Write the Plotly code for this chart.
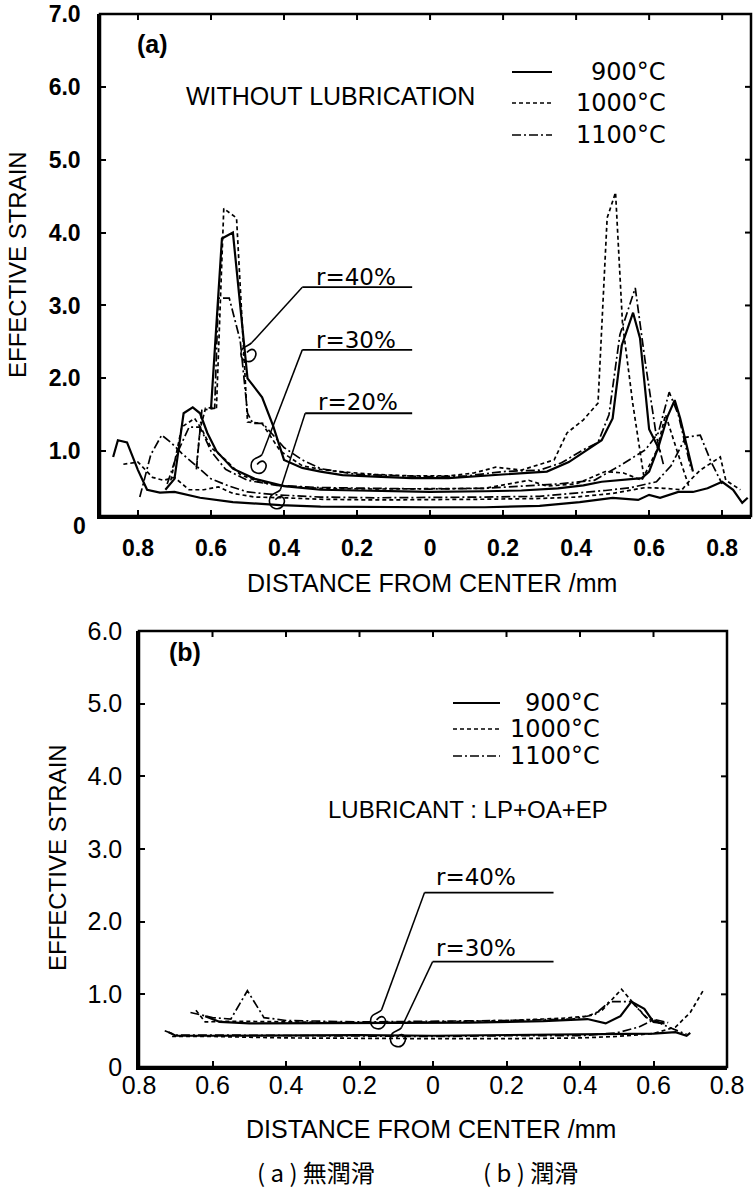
import plotly.graph_objects as go

# ---------------- shared styling keys ----------------
TEMPS = ["900°C", "1000°C", "1100°C"]
LEG_TEXT = ["900°C", "1000°C", "1100°C"]
DASHES = ["solid", "4px,3px", "9px,3px,2px,3px"]
WIDTHS = [2.2, 1.7, 1.7]

# ---------------- (a) WITHOUT LUBRICATION ----------------
A_XTICKS = [-0.8, -0.6, -0.4, -0.2, 0, 0.2, 0.4, 0.6, 0.8]
A_XTICKTEXT = ["0.8", "0.6", "0.4", "0.2", "0", "0.2", "0.4", "0.6", "0.8"]
A_YTICKS = [1, 2, 3, 4, 5, 6, 7]
A_YTICKTEXT = ["1.0", "2.0", "3.0", "4.0", "5.0", "6.0", "7.0"]

# r = 40 %
a900_r40_x = [-0.60, -0.57, -0.54, -0.51, -0.50, -0.46, -0.43, -0.40, -0.35, -0.30, -0.24, -0.15, -0.05,
              0.05, 0.15, 0.25, 0.32, 0.38, 0.43, 0.47, 0.50, 0.525, 0.556, 0.575, 0.60, 0.63]
a900_r40_y = [1.58, 3.92, 4.00, 2.45, 2.00, 1.74, 1.35, 0.88, 0.77, 0.72, 0.67, 0.65, 0.63,
              0.63, 0.66, 0.70, 0.72, 0.85, 1.02, 1.15, 1.45, 2.45, 2.90, 2.55, 1.30, 1.00]
a1000_r40_x = [-0.64, -0.63, -0.615, -0.585, -0.565, -0.53, -0.50, -0.46, -0.41, -0.35, -0.30, -0.25, -0.15,
               -0.05, 0.05, 0.12, 0.18, 0.25, 0.34, 0.375, 0.42, 0.46, 0.485, 0.508, 0.527, 0.555, 0.585]
a1000_r40_y = [0.78, 1.30, 1.59, 1.60, 4.33, 4.20, 1.40, 1.38, 1.00, 0.80, 0.75, 0.72, 0.68,
               0.66, 0.66, 0.70, 0.78, 0.74, 0.88, 1.25, 1.43, 1.66, 4.20, 4.55, 2.76, 1.66, 0.67]
a1100_r40_x = [-0.64, -0.625, -0.59, -0.58, -0.55, -0.52, -0.50, -0.485, -0.458, -0.40, -0.35, -0.30, -0.20,
               -0.10, 0.0, 0.10, 0.20, 0.30, 0.36, 0.42, 0.46, 0.49, 0.52, 0.562, 0.59, 0.62, 0.64]
a1100_r40_y = [0.75, 1.56, 1.59, 3.10, 3.10, 2.52, 1.52, 1.38, 1.38, 1.05, 0.88, 0.76, 0.68,
               0.66, 0.65, 0.66, 0.72, 0.74, 0.84, 1.02, 1.12, 1.50, 2.60, 3.24, 2.20, 1.20, 0.80]

# r = 30 %
a900_r30_x = [-0.725, -0.70, -0.675, -0.65, -0.63, -0.61, -0.585, -0.54, -0.48, -0.40, -0.30, -0.15, 0.0,
              0.15, 0.25, 0.35, 0.42, 0.47, 0.55, 0.58, 0.60, 0.625, 0.65, 0.67, 0.685, 0.72]
a900_r30_y = [0.47, 0.62, 1.52, 1.60, 1.52, 1.25, 1.00, 0.76, 0.62, 0.52, 0.47, 0.45, 0.44,
              0.45, 0.46, 0.49, 0.53, 0.58, 0.62, 0.63, 0.72, 1.05, 1.47, 1.70, 1.45, 0.72]
a1000_r30_x = [-0.71, -0.68, -0.645, -0.625, -0.60, -0.56, -0.52, -0.47, -0.40, -0.30, -0.15, 0.0,
               0.15, 0.27, 0.32, 0.40, 0.48, 0.53, 0.58, 0.62, 0.645, 0.68, 0.71]
a1000_r30_y = [0.60, 1.33, 1.45, 1.30, 1.05, 0.88, 0.68, 0.58, 0.52, 0.49, 0.48, 0.48,
               0.49, 0.60, 0.52, 0.55, 0.72, 0.70, 0.60, 1.00, 1.50, 0.95, 0.50]
a1100_r30_x = [-0.72, -0.69, -0.66, -0.63, -0.60, -0.56, -0.50, -0.42, -0.30, -0.15, 0.0,
               0.15, 0.25, 0.35, 0.45, 0.52, 0.59, 0.625, 0.655, 0.68, 0.715]
a1100_r30_y = [0.55, 1.00, 1.33, 1.33, 1.00, 0.75, 0.60, 0.53, 0.50, 0.49, 0.48,
               0.49, 0.52, 0.55, 0.60, 0.80, 1.02, 1.25, 1.81, 1.50, 0.75]

# r = 20 %
a900_r20_x = [-0.868, -0.855, -0.83, -0.80, -0.775, -0.74, -0.70, -0.63, -0.54, -0.41, -0.30, -0.15, 0.0,
              0.15, 0.30, 0.41, 0.50, 0.57, 0.60, 0.63, 0.68, 0.72, 0.76, 0.80, 0.83, 0.855, 0.87]
a900_r20_y = [0.92, 1.15, 1.12, 0.74, 0.47, 0.43, 0.44, 0.36, 0.30, 0.26, 0.24, 0.23, 0.23,
              0.23, 0.25, 0.30, 0.36, 0.33, 0.40, 0.36, 0.44, 0.44, 0.49, 0.58, 0.47, 0.29, 0.36]
a1000_r20_x = [-0.84, -0.80, -0.76, -0.73, -0.70, -0.66, -0.62, -0.58, -0.54, -0.48, -0.40, -0.30, -0.15,
               0.0, 0.15, 0.30, 0.40, 0.50, 0.59, 0.64, 0.69, 0.712, 0.74, 0.795, 0.81, 0.85]
a1000_r20_y = [0.82, 0.85, 0.64, 0.60, 0.64, 0.47, 0.47, 0.51, 0.42, 0.37, 0.36, 0.34, 0.33,
               0.33, 0.34, 0.35, 0.37, 0.42, 0.50, 0.49, 0.47, 0.60, 0.74, 0.92, 0.60, 0.47]
a1100_r20_x = [-0.795, -0.765, -0.735, -0.71, -0.68, -0.64, -0.60, -0.55, -0.50, -0.42, -0.30, -0.15, 0.0,
               0.15, 0.30, 0.40, 0.48, 0.55, 0.62, 0.66, 0.70, 0.74, 0.77, 0.80]
a1100_r20_y = [0.37, 0.95, 1.22, 1.12, 0.97, 0.80, 0.62, 0.52, 0.44, 0.40, 0.37, 0.36, 0.36,
               0.37, 0.38, 0.42, 0.46, 0.50, 0.58, 0.80, 1.19, 1.22, 0.85, 0.55]

# ---------------- (b) LUBRICANT : LP+OA+EP ----------------
B_XTICKS = [-0.8, -0.6, -0.4, -0.2, 0, 0.2, 0.4, 0.6, 0.8]
B_XTICKTEXT = ["0.8", "0.6", "0.4", "0.2", "0", "0.2", "0.4", "0.6", "0.8"]
B_YTICKS = [0, 1, 2, 3, 4, 5, 6]
B_YTICKTEXT = ["0", "1.0", "2.0", "3.0", "4.0", "5.0", "6.0"]

b900_r40_x = [-0.62, -0.58, -0.50, -0.30, -0.10, 0.10, 0.30, 0.42, 0.47, 0.51, 0.54, 0.575, 0.60, 0.63]
b900_r40_y = [0.70, 0.62, 0.60, 0.60, 0.60, 0.61, 0.63, 0.66, 0.60, 0.70, 0.90, 0.80, 0.62, 0.60]
b1000_r40_x = [-0.645, -0.62, -0.55, -0.40, -0.20, 0.0, 0.20, 0.35, 0.42, 0.46, 0.513, 0.55, 0.585, 0.62]
b1000_r40_y = [0.78, 0.62, 0.63, 0.62, 0.61, 0.62, 0.64, 0.67, 0.70, 0.78, 1.07, 0.85, 0.66, 0.60]
b1100_r40_x = [-0.66, -0.60, -0.55, -0.505, -0.46, -0.40, -0.20, 0.0, 0.20, 0.38, 0.44, 0.48, 0.54, 0.58, 0.64]
b1100_r40_y = [0.75, 0.68, 0.66, 1.05, 0.68, 0.64, 0.62, 0.63, 0.64, 0.66, 0.72, 0.90, 0.90, 0.68, 0.61]

b900_r30_x = [-0.72, -0.70, -0.60, -0.40, -0.20, 0.0, 0.20, 0.40, 0.50, 0.60, 0.66, 0.69, 0.70]
b900_r30_y = [0.48, 0.43, 0.43, 0.44, 0.44, 0.43, 0.44, 0.44, 0.45, 0.46, 0.48, 0.43, 0.47]
b1000_r30_x = [-0.71, -0.60, -0.40, -0.20, 0.0, 0.20, 0.40, 0.50, 0.60, 0.66, 0.70, 0.735]
b1000_r30_y = [0.42, 0.42, 0.40, 0.39, 0.39, 0.39, 0.40, 0.42, 0.46, 0.55, 0.75, 1.05]
b1100_r30_x = [-0.73, -0.70, -0.60, -0.40, -0.20, 0.0, 0.20, 0.40, 0.50, 0.56, 0.60, 0.64, 0.69]
b1100_r30_y = [0.50, 0.44, 0.44, 0.43, 0.42, 0.42, 0.43, 0.43, 0.47, 0.55, 0.65, 0.55, 0.45]

# ---------------- geometry (pixels of the 756 x 1193 page) ----------------
W, H = 756, 1193
A_LEFT, A_RIGHT, A_TOP, A_BOT = 100, 751, 14, 516
B_LEFT, B_RIGHT, B_TOP, B_BOT = 139, 727, 631, 1067
A_XR = [-0.904, 0.879]
A_YR = [0.11, 7.0]
B_XR = [-0.80, 0.80]
B_YR = [0.0, 6.0]

FONT_A = "Liberation Sans, Arial, sans-serif"
FONT_D = "DejaVu Sans, sans-serif"
FONT_N = "Liberation Sans Narrow, Liberation Sans, sans-serif"
FONT_CJK = "Noto Sans CJK JP, Noto Sans CJK SC, sans-serif"

fig = go.Figure()

a_series = [
    (0, a900_r40_x, a900_r40_y), (1, a1000_r40_x, a1000_r40_y), (2, a1100_r40_x, a1100_r40_y),
    (0, a900_r30_x, a900_r30_y), (1, a1000_r30_x, a1000_r30_y), (2, a1100_r30_x, a1100_r30_y),
    (0, a900_r20_x, a900_r20_y), (1, a1000_r20_x, a1000_r20_y), (2, a1100_r20_x, a1100_r20_y),
]
b_series = [
    (0, b900_r40_x, b900_r40_y), (1, b1000_r40_x, b1000_r40_y), (2, b1100_r40_x, b1100_r40_y),
    (0, b900_r30_x, b900_r30_y), (1, b1000_r30_x, b1000_r30_y), (2, b1100_r30_x, b1100_r30_y),
]

for t, xs, ys in a_series:
    fig.add_trace(go.Scatter(
        x=xs, y=ys, mode="lines", xaxis="x", yaxis="y",
        line=dict(color="black", width=WIDTHS[t], dash=DASHES[t]),
        name=TEMPS[t], showlegend=False, hoverinfo="skip"))
for t, xs, ys in b_series:
    fig.add_trace(go.Scatter(
        x=xs, y=ys, mode="lines", xaxis="x2", yaxis="y2",
        line=dict(color="black", width=WIDTHS[t], dash=DASHES[t]),
        name=TEMPS[t], showlegend=False, hoverinfo="skip"))


def xdom(l, r):
    return [l / W, r / W]


def ydom(top, bot):
    return [1 - bot / H, 1 - top / H]


axis_common = dict(showline=True, linecolor="black", linewidth=2.5, mirror=False,
                   ticks="inside", ticklen=6, tickwidth=2, tickcolor="black",
                   showgrid=False, zeroline=False, fixedrange=True, automargin=False)

fig.update_layout(
    width=W, height=H, margin=dict(l=0, r=0, t=0, b=0),
    paper_bgcolor="white", plot_bgcolor="white", showlegend=False,
    xaxis=dict(domain=xdom(A_LEFT, A_RIGHT), range=A_XR, anchor="y",
               tickmode="array", tickvals=A_XTICKS, ticktext=A_XTICKTEXT,
               tickfont=dict(family=FONT_A, size=23, color="black", weight="bold"),
               ticklabelstandoff=10, **axis_common),
    yaxis=dict(domain=ydom(A_TOP, A_BOT), range=A_YR, anchor="x",
               tickmode="array", tickvals=A_YTICKS, ticktext=A_YTICKTEXT,
               tickfont=dict(family=FONT_A, size=23, color="black", weight="bold"),
               ticklabelstandoff=12, **axis_common),
    xaxis2=dict(domain=xdom(B_LEFT, B_RIGHT), range=B_XR, anchor="y2",
                tickmode="array", tickvals=B_XTICKS, ticktext=B_XTICKTEXT,
                tickfont=dict(family=FONT_N, size=25, color="black"),
                ticklabelstandoff=-6, **axis_common),
    yaxis2=dict(domain=ydom(B_TOP, B_BOT), range=B_YR, anchor="x2",
                tickmode="array", tickvals=B_YTICKS, ticktext=B_YTICKTEXT,
                tickfont=dict(family=FONT_N, size=25, color="black"),
                ticklabelstandoff=9, **axis_common),
)

ann = []


def text(px, py, s, size, family, xanchor="center", angle=0, bold=False):
    ann.append(dict(x=px / W, y=1 - py / H, xref="paper", yref="paper", text=s,
                    showarrow=False, xanchor=xanchor, yanchor="middle", textangle=angle,
                    font=dict(family=family, size=size, color="black",
                              weight="bold" if bold else "normal")))


def dtext(x, y, s, size, family, xr, yr):
    ann.append(dict(x=x, y=y, xref=xr, yref=yr, text=s, showarrow=False,
                    xanchor="center", yanchor="middle",
                    font=dict(family=family, size=size, color="black")))


shapes = []


def frame(xr, yr, xticks, yticks):
    """Top / right border with inward ticks (mirror of the main axes)."""
    shapes.append(dict(type="rect", xref=xr + " domain", yref=yr + " domain",
                       x0=0, x1=1, y0=0, y1=1, line=dict(color="black", width=2.5),
                       fillcolor="rgba(0,0,0,0)", layer="above"))
    for v in xticks:
        shapes.append(dict(type="line", xref=xr, yref=yr + " domain", ysizemode="pixel",
                           yanchor=1, x0=v, x1=v, y0=0, y1=-6,
                           line=dict(color="black", width=2)))
    for v in yticks:
        shapes.append(dict(type="line", xref=xr + " domain", yref=yr, xsizemode="pixel",
                           xanchor=1, y0=v, y1=v, x0=0, x1=-6,
                           line=dict(color="black", width=2)))


frame("x", "y", A_XTICKS, A_YTICKS[:-1])
frame("x2", "y2", B_XTICKS, B_YTICKS[1:-1])


def legend_block(x0, x1, xtext, rows, size, family):
    for t, py in enumerate(rows):
        shapes.append(dict(type="line", xref="paper", yref="paper",
                           x0=x0 / W, x1=x1 / W, y0=1 - py / H, y1=1 - py / H,
                           line=dict(color="black", width=WIDTHS[t], dash=DASHES[t])))
        text(xtext, py, LEG_TEXT[t], size, family, xanchor="right")


# panel (a) texts
text(152, 44, "(a)", 25, FONT_A, bold=True)
text(330, 96, "WITHOUT LUBRICATION", 25, FONT_A)
text(18, 265, "EFFECTIVE STRAIN", 24, FONT_A, angle=-90)
text(432, 583, "DISTANCE FROM CENTER /mm", 25, FONT_A)
text(88, 526, "0", 23, FONT_A, xanchor="right", bold=True)
legend_block(512, 552, 668, [72, 103, 135], 24, FONT_D)
dtext(-0.203, 3.39, "r=40%", 23, FONT_D, "x", "y")
dtext(-0.203, 2.52, "r=30%", 23, FONT_D, "x", "y")
dtext(-0.197, 1.67, "r=20%", 23, FONT_D, "x", "y")

# panel (b) texts
text(185, 652, "(b)", 25, FONT_A, bold=True)
text(468, 809, "LUBRICANT : LP+OA+EP", 24, FONT_A)
text(57, 858, "EFFECTIVE STRAIN", 24, FONT_A, angle=-90)
text(431, 1129, "DISTANCE FROM CENTER /mm", 25, FONT_A)
legend_block(453, 500, 602, [703, 729, 756], 24, FONT_D)
dtext(0.116, 2.62, "r=40%", 23, FONT_D, "x2", "y2")
dtext(0.116, 1.64, "r=30%", 23, FONT_D, "x2", "y2")

# caption
text(316, 1171, "( a ) 無潤滑", 24, FONT_CJK)
text(530, 1171, "( b ) 潤滑", 24, FONT_CJK)

fig.update_layout(annotations=ann)

# leader lines with curls pointing to the curve groups
AXPU = (A_RIGHT - A_LEFT) / (A_XR[1] - A_XR[0])
AYPU = (A_BOT - A_TOP) / (A_YR[1] - A_YR[0])
BXPU = (B_RIGHT - B_LEFT) / (B_XR[1] - B_XR[0])
BYPU = (B_BOT - B_TOP) / (B_YR[1] - B_YR[0])
CURL = [(0, 0), (-3, 4), (-11, 3), (-11, 11), (-11, 19), (-1, 22), (3, 15), (6, 9), (1, 3), (-5, 10)]


def leader(x0, x1, yl, xe, ye, xpu, ypu, xr, yr):
    shapes.append(dict(type="line", xref=xr, yref=yr, x0=x0, x1=x1, y0=yl, y1=yl,
                       line=dict(color="black", width=1.8)))
    shapes.append(dict(type="line", xref=xr, yref=yr, x0=x0, x1=xe, y0=yl, y1=ye,
                       line=dict(color="black", width=1.5)))
    pts = ["%.5f,%.5f" % (xe + dx / xpu, ye - dy / ypu) for dx, dy in CURL]
    path = "M " + pts[0] + " C " + " ".join(pts[1:4]) + " C " + " ".join(pts[4:7]) + " C " + " ".join(pts[7:10])
    shapes.append(dict(type="path", xref=xr, yref=yr, path=path,
                       line=dict(color="black", width=1.6)))


leader(-0.35, -0.049, 3.25, -0.488, 2.49, AXPU, AYPU, "x", "y")
leader(-0.35, -0.049, 2.39, -0.46, 0.955, AXPU, AYPU, "x", "y")
leader(-0.342, -0.049, 1.52, -0.41, 0.47, AXPU, AYPU, "x", "y")
leader(-0.023, 0.328, 2.40, -0.140, 0.786, BXPU, BYPU, "x2", "y2")
leader(-0.001, 0.328, 1.45, -0.086, 0.54, BXPU, BYPU, "x2", "y2")
fig.update_layout(shapes=shapes)

fig.write_html("out.html", config={"displayModeBar": False},
               post_script="document.body.style.margin='0';document.body.style.padding='0';")
